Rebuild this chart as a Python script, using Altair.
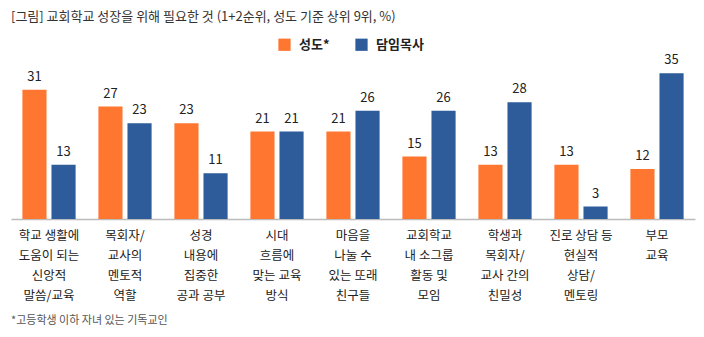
import altair as alt
import pandas as pd

categories = [
    "학교 생활에\n도움이 되는\n신앙적\n말씀/교육",
    "목회자/\n교사의\n멘토적\n역할",
    "성경\n내용에\n집중한\n공과 공부",
    "시대\n흐름에\n맞는 교육\n방식",
    "마음을\n나눌 수\n있는 또래\n친구들",
    "교회학교\n내 소그룹\n활동 및\n모임",
    "학생과\n목회자/\n교사 간의\n친밀성",
    "진로 상담 등\n현실적\n상담/\n멘토링",
    "부모\n교육",
]
series = ["성도*", "담임목사"]
members = [31, 27, 23, 21, 21, 15, 13, 13, 12]
pastors = [13, 23, 11, 21, 26, 26, 28, 3, 35]
colors = ["#FF7631", "#2E5B9A"]
title_text = "[그림] 교회학교 성장을 위해 필요한 것 (1+2순위, 성도 기준 상위 9위, %)"
foot_text = "*고등학생 이하 자녀 있는 기독교인"

rows = []
for i, c in enumerate(categories):
    rows.append({"cat": c, "series": series[0], "value": members[i]})
    rows.append({"cat": c, "series": series[1], "value": pastors[i]})
df = pd.DataFrame(rows)

FONT = "Noto Sans CJK KR"

x = alt.X("cat:N", sort=categories, title=None,
          scale=alt.Scale(paddingInner=0.3, paddingOuter=0.15),
          axis=alt.Axis(labelExpr="split(datum.label, '\\n')", labelAngle=0,
                        labelFontSize=12.5, labelLineHeight=20, labelPadding=10,
                        labelColor="#222", labelFont=FONT, ticks=False,
                        domainColor="#BBBBBB", domainWidth=1.5, labelLimit=200))
xo = alt.XOffset("series:N", sort=series,
                 scale=alt.Scale(paddingInner=0.17, paddingOuter=0))
y = alt.Y("value:Q", scale=alt.Scale(domain=[0, 36]), axis=None)

bars = alt.Chart(df).mark_bar().encode(
    x=x, xOffset=xo, y=y,
    color=alt.Color("series:N", sort=series,
                    scale=alt.Scale(domain=series, range=colors),
                    legend=alt.Legend(title=None, orient="none", direction="horizontal",
                                      legendX=267, legendY=-31, symbolType="square",
                                      symbolSize=150, symbolStrokeWidth=0,
                                      symbolOpacity=1,
                                      labelFontSize=13, labelFontWeight="bold",
                                      labelFont=FONT, labelColor="#222",
                                      columnPadding=25, labelOffset=8)),
)

labels = alt.Chart(df).mark_text(baseline="bottom", dy=-6, fontSize=13,
                                 color="#222", font=FONT).encode(
    x=alt.X("cat:N", sort=categories), xOffset=xo, y=y,
    text=alt.Text("value:Q"),
)

foot = alt.Chart(pd.DataFrame({"t": [foot_text]})).mark_text(
    align="left", baseline="middle", fontSize=11, color="#555", font=FONT
).encode(x=alt.value(0), y=alt.value(252), text="t:N")

title = alt.Chart(pd.DataFrame({"t": [title_text]})).mark_text(
    align="left", baseline="middle", fontSize=13, color="#333", font=FONT
).encode(x=alt.value(0), y=alt.value(-52), text="t:N")

chart = alt.layer(bars, labels, foot, title).properties(
    width=684, height=150,
    padding={"left": 11, "top": 69, "right": 9, "bottom": 118},
    autosize=alt.AutoSizeParams(type="none"),
).configure_view(stroke=None)

chart.save("out.html", embed_options={"renderer": "svg", "actions": False})
